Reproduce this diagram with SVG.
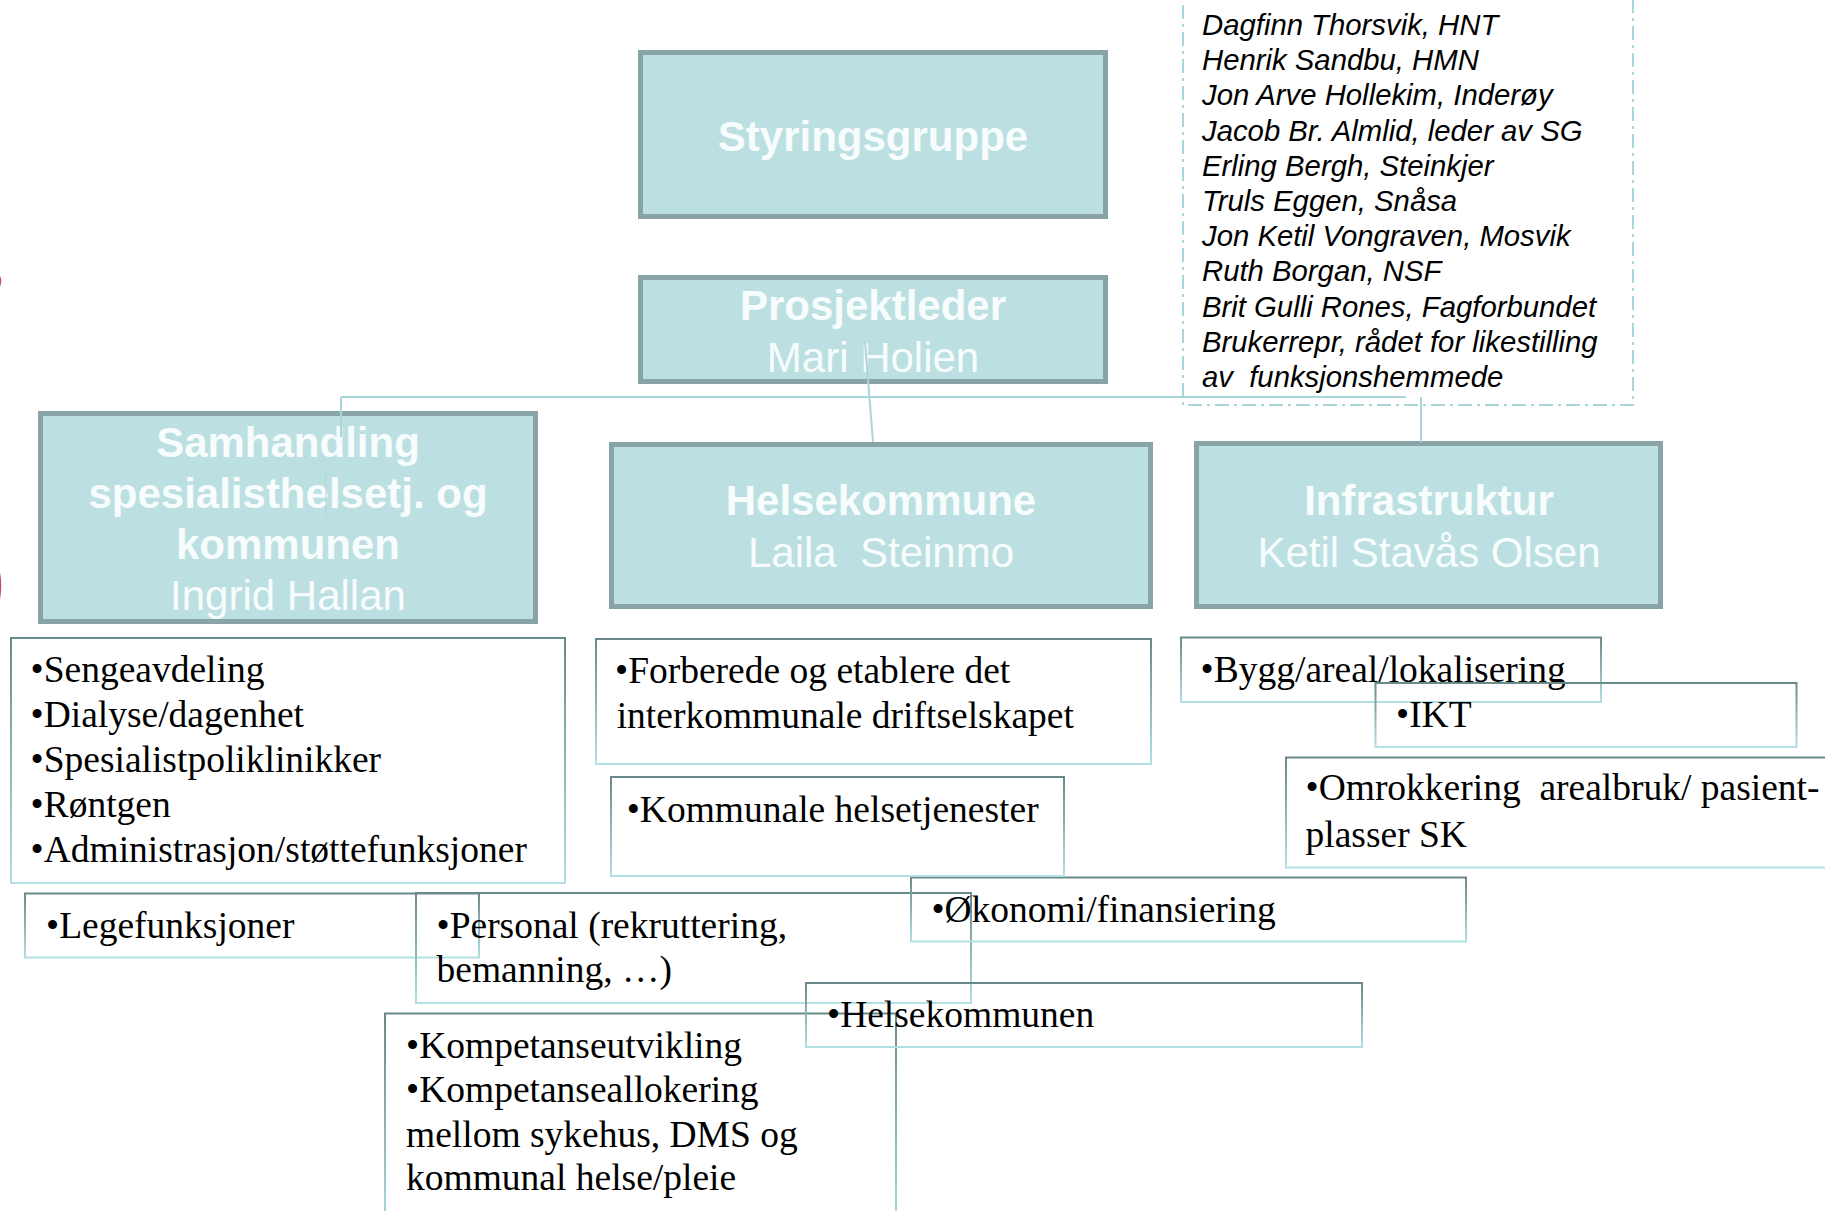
<svg xmlns="http://www.w3.org/2000/svg" width="1825" height="1211" viewBox="0 0 1825 1211">
  <defs>
    <linearGradient id="boxStroke" x1="0" y1="0" x2="0" y2="1">
      <stop offset="0" stop-color="#6a898b"/>
      <stop offset="1" stop-color="#b2e0e4"/>
    </linearGradient>
    <style>
      .node { fill: #bce0e2; stroke: #88a4a6; stroke-width: 5; }
      .title { font-family: "Liberation Sans", Arial, sans-serif; font-size: 42px; font-weight: bold; fill: #f7fcfc; text-anchor: middle; }
      .name { font-family: "Liberation Sans", Arial, sans-serif; font-size: 42px; fill: #f7fcfc; text-anchor: middle; white-space: pre; }
      .tbox { fill: none; stroke: url(#boxStroke); stroke-width: 2; }
      .item { font-family: "Liberation Serif", "Times New Roman", serif; font-size: 37.5px; fill: #000; white-space: pre; }
      .member { font-family: "Liberation Sans", Arial, sans-serif; font-size: 29.3px; font-style: italic; fill: #000; white-space: pre; }
      .conn { stroke: #a9d6da; stroke-width: 2; fill: none; }
    </style>
  </defs>
  <rect width="1825" height="1211" fill="#ffffff"/>

  <!-- edge marks -->
  <path d="M0 276 Q2.5 281 0 287 Z" fill="#c2506a"/>
  <path d="M0 572 Q2.5 585 0 600 Z" fill="#c2506a"/>

  <g id="members">
    <rect x="1183" y="-10" width="450" height="415" fill="none" stroke="#a8d6db" stroke-width="2" stroke-dasharray="14 5 3 5"/>
    <text class="member" x="1202" y="35">Dagfinn Thorsvik, HNT</text>
    <text class="member" x="1202" y="70.2">Henrik Sandbu, HMN</text>
    <text class="member" x="1202" y="105.4">Jon Arve Hollekim, Inderøy</text>
    <text class="member" x="1202" y="140.6">Jacob Br. Almlid, leder av SG</text>
    <text class="member" x="1202" y="175.8">Erling Bergh, Steinkjer</text>
    <text class="member" x="1202" y="211">Truls Eggen, Snåsa</text>
    <text class="member" x="1202" y="246.2">Jon Ketil Vongraven, Mosvik</text>
    <text class="member" x="1202" y="281.4">Ruth Borgan, NSF</text>
    <text class="member" x="1202" y="316.6">Brit Gulli Rones, Fagforbundet</text>
    <text class="member" x="1202" y="351.8">Brukerrepr, rådet for likestilling</text>
    <text class="member" x="1202" y="387">av  funksjonshemmede</text>
  </g>

  <g id="styringsgruppe">
    <rect class="node" x="640.5" y="52.5" width="465" height="164"/>
    <text class="title" x="873" y="151">Styringsgruppe</text>
  </g>

  <g id="prosjektleder">
    <rect class="node" x="640.5" y="277.5" width="465" height="104"/>
    <text class="title" x="873" y="320">Prosjektleder</text>
    <text class="name" x="873" y="372">Mari Holien</text>
  </g>

  <g id="samhandling">
    <rect class="node" x="40.5" y="413.5" width="495" height="208"/>
    <text class="title" x="288" y="457">Samhandling</text>
    <text class="title" x="288" y="508">spesialisthelsetj. og</text>
    <text class="title" x="288" y="559">kommunen</text>
    <text class="name" x="288" y="610">Ingrid Hallan</text>
  </g>

  <g id="helsekommune">
    <rect class="node" x="611.5" y="444.5" width="539" height="162"/>
    <text class="title" x="881" y="515">Helsekommune</text>
    <text class="name" x="881" y="567">Laila  Steinmo</text>
  </g>

  <g id="infrastruktur">
    <rect class="node" x="1196.5" y="443.5" width="464" height="163"/>
    <text class="title" x="1429" y="515">Infrastruktur</text>
    <text class="name" x="1429" y="567">Ketil Stavås Olsen</text>
  </g>

  <g id="connectors">
    <line class="conn" x1="341" y1="397" x2="1406" y2="397"/>
    <line class="conn" x1="341" y1="397" x2="341" y2="437" stroke-width="1.5"/>
    <line class="conn" x1="326" y1="473" x2="326" y2="517" stroke-width="1" opacity="0.5"/>
    <line class="conn" x1="865" y1="342" x2="873" y2="442"/>
    <line class="conn" x1="1421" y1="397" x2="1421" y2="442"/>
  </g>

  <g id="list-samhandling">
    <rect class="tbox" x="11" y="638" width="554" height="245"/>
    <text class="item" x="30.5" y="681.7">•Sengeavdeling</text>
    <text class="item" x="30.5" y="726.7">•Dialyse/dagenhet</text>
    <text class="item" x="30.5" y="771.7">•Spesialistpoliklinikker</text>
    <text class="item" x="30.5" y="816.7">•Røntgen</text>
    <text class="item" x="30.5" y="861.7">•Administrasjon/støttefunksjoner</text>
  </g>

  <g id="legefunksjoner">
    <rect class="tbox" x="25" y="893.5" width="454" height="64"/>
    <text class="item" x="46" y="938.3">•Legefunksjoner</text>
  </g>

  <g id="personal">
    <rect class="tbox" x="416" y="893" width="555" height="110"/>
    <text class="item" x="436.5" y="938.3">•Personal (rekruttering,</text>
    <text class="item" x="436.5" y="981.7">bemanning, …)</text>
  </g>

  <g id="kompetanse">
    <rect class="tbox" x="385" y="1013.5" width="511" height="230"/>
    <text class="item" x="406" y="1058.3">•Kompetanseutvikling</text>
    <text class="item" x="406" y="1101.7">•Kompetanseallokering</text>
    <text class="item" x="406" y="1146.7">mellom sykehus, DMS og</text>
    <text class="item" x="406" y="1190">kommunal helse/pleie</text>
  </g>

  <g id="helsekommunen">
    <rect class="tbox" x="806" y="983" width="556" height="64"/>
    <text class="item" x="827" y="1026.7">•Helsekommunen</text>
  </g>

  <g id="okonomi">
    <rect class="tbox" x="911" y="877.5" width="555" height="64"/>
    <text class="item" x="931.4" y="921.7">•Økonomi/finansiering</text>
  </g>

  <g id="forberede">
    <rect class="tbox" x="596" y="639" width="555" height="125"/>
    <text class="item" x="615" y="683.3">•Forberede og etablere det</text>
    <text class="item" x="616.7" y="728.3">interkommunale driftselskapet</text>
  </g>

  <g id="kommunale">
    <rect class="tbox" x="611" y="777" width="453" height="99"/>
    <text class="item" x="626.7" y="821.7">•Kommunale helsetjenester</text>
  </g>

  <g id="bygg">
    <rect class="tbox" x="1181" y="637.5" width="420" height="64.5"/>
    <text class="item" x="1200.6" y="681.7">•Bygg/areal/lokalisering</text>
  </g>

  <g id="ikt">
    <rect class="tbox" x="1375.5" y="683" width="421" height="64"/>
    <text class="item" x="1396" y="726.7">•IKT</text>
  </g>

  <g id="omrokkering">
    <rect class="tbox" x="1286" y="757.5" width="560" height="110"/>
    <text class="item" x="1305.5" y="800">•Omrokkering  arealbruk/ pasient-</text>
    <text class="item" x="1305.5" y="846.7">plasser SK</text>
  </g>
</svg>
